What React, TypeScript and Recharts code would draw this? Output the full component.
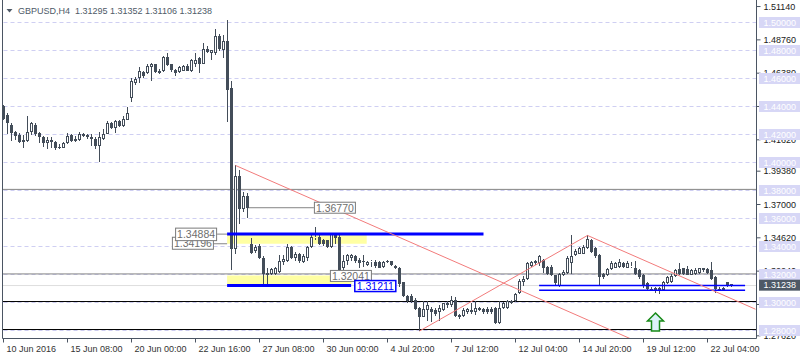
import {
  Bar,
  ComposedChart,
  ReferenceArea,
  ReferenceDot,
  ReferenceLine,
  XAxis,
  YAxis,
} from "recharts";

const FONT = "'Liberation Sans', Arial, sans-serif";
const CANDLE = "#434d59";
const AXIS = "#4b5563";
const TREND = "#f27b7b";

// H4 bars, 10 Jun 2016 16:00 .. 25 Jul 2016 04:00
const opens = [
  1.4407, 1.4336, 1.4271, 1.4221, 1.4193, 1.4143, 1.4157, 1.4221, 1.4271, 1.4214,
  1.4179, 1.4136, 1.4164, 1.4143, 1.4114, 1.4107, 1.4136, 1.4193, 1.4171, 1.4164,
  1.4207, 1.4193, 1.4179, 1.4171, 1.4121, 1.4171, 1.4207, 1.4279, 1.4243, 1.4293,
  1.4264, 1.4307, 1.4464, 1.4571, 1.46, 1.4643, 1.4636, 1.4679, 1.47, 1.4657,
  1.465, 1.475, 1.47, 1.4664, 1.4643, 1.4657, 1.4686, 1.465, 1.4707, 1.4743,
  1.4707, 1.4814, 1.4779, 1.4779, 1.4907, 1.48, 1.4871, 1.4529, 1.3379, 1.3907,
  1.3671, 1.3764, 1.3421, 1.3371, 1.3407, 1.3321, 1.3193, 1.3207, 1.3207, 1.3221,
  1.3286, 1.3293, 1.34, 1.3321, 1.335, 1.3286, 1.3321, 1.3393, 1.3464, 1.3471,
  1.345, 1.3443, 1.3393, 1.3486, 1.3471, 1.3243, 1.33, 1.3321, 1.3329, 1.3307,
  1.33, 1.3271, 1.3286, 1.3286, 1.3286, 1.3257, 1.3293, 1.3293, 1.3264, 1.325,
  1.3143, 1.305, 1.305, 1.3021, 1.2964, 1.29, 1.2943, 1.2957, 1.295, 1.2929,
  1.2943, 1.2979, 1.2979, 1.3021, 1.2914, 1.2907, 1.2929, 1.2929, 1.2929, 1.2943,
  1.2957, 1.2957, 1.2957, 1.2964, 1.2857, 1.2964, 1.2964, 1.2993, 1.3014, 1.3071,
  1.3143, 1.3171, 1.3264, 1.3279, 1.3279, 1.3307, 1.3257, 1.3257, 1.3193, 1.3121,
  1.3193, 1.3214, 1.3279, 1.3336, 1.335, 1.335, 1.3386, 1.3443, 1.3386, 1.3336,
  1.3207, 1.3193, 1.3236, 1.325, 1.3257, 1.3279, 1.325, 1.3257, 1.325, 1.3229,
  1.3193, 1.3136, 1.31, 1.3107, 1.3107, 1.3086, 1.3136, 1.3143, 1.3186, 1.3236,
  1.3243, 1.3236, 1.32, 1.3207, 1.3214, 1.3229, 1.3236, 1.3229, 1.3179, 1.31,
  1.3107, 1.3143, 1.31295,
];
const highs = [
  1.4414, 1.435, 1.4279, 1.4224, 1.4214, 1.4193, 1.4329, 1.4286, 1.4279, 1.4221,
  1.4186, 1.4179, 1.4179, 1.415, 1.4129, 1.4143, 1.4214, 1.4207, 1.4186, 1.4221,
  1.4214, 1.42, 1.4207, 1.4179, 1.4221, 1.4236, 1.4293, 1.4286, 1.43, 1.43,
  1.4329, 1.4393, 1.4607, 1.4614, 1.4679, 1.4657, 1.4707, 1.4714, 1.4707, 1.4671,
  1.4764, 1.4779, 1.4707, 1.4671, 1.4686, 1.4693, 1.4707, 1.4736, 1.4779, 1.475,
  1.485, 1.4829, 1.4807, 1.495, 1.4921, 1.4914, 1.5021, 1.4579, 1.3979, 1.3943,
  1.3786, 1.3779, 1.3464, 1.3414, 1.3421, 1.3329, 1.325, 1.3243, 1.3257, 1.3336,
  1.3336, 1.3421, 1.3407, 1.3364, 1.3357, 1.3343, 1.3407, 1.3479, 1.3536, 1.3479,
  1.3457, 1.345, 1.35, 1.35, 1.3479, 1.3336, 1.335, 1.335, 1.3336, 1.3321,
  1.3336, 1.3293, 1.3307, 1.3307, 1.3293, 1.33, 1.3307, 1.33, 1.3271, 1.3257,
  1.315, 1.3057, 1.3064, 1.3029, 1.2971, 1.3014, 1.3014, 1.2971, 1.2964, 1.2979,
  1.3, 1.3014, 1.3043, 1.3036, 1.2921, 1.2964, 1.2964, 1.2993, 1.3014, 1.2971,
  1.2964, 1.2971, 1.2971, 1.2971, 1.3014, 1.3007, 1.3021, 1.3021, 1.3071, 1.3171,
  1.3186, 1.3286, 1.33, 1.3307, 1.3336, 1.3314, 1.3264, 1.3271, 1.32, 1.3214,
  1.3229, 1.3329, 1.3479, 1.3379, 1.3393, 1.3414, 1.3479, 1.3457, 1.34, 1.3343,
  1.3214, 1.3243, 1.3293, 1.3286, 1.3314, 1.3286, 1.3293, 1.3286, 1.3293, 1.3236,
  1.3207, 1.3143, 1.3114, 1.3114, 1.3114, 1.3157, 1.3186, 1.3207, 1.3236, 1.3279,
  1.325, 1.3264, 1.3236, 1.3243, 1.325, 1.325, 1.3243, 1.3286, 1.3186, 1.3114,
  1.3114, 1.315, 1.31352,
];
const lows = [
  1.43, 1.4207, 1.415, 1.4164, 1.4136, 1.4107, 1.4143, 1.4193, 1.4186, 1.4136,
  1.4114, 1.4093, 1.41, 1.4086, 1.4093, 1.41, 1.4129, 1.4148, 1.4143, 1.4157,
  1.4179, 1.4171, 1.4121, 1.4093, 1.4007, 1.4164, 1.42, 1.4236, 1.4214, 1.4257,
  1.4257, 1.43, 1.4429, 1.455, 1.4571, 1.46, 1.4629, 1.4579, 1.4636, 1.4629,
  1.4643, 1.4686, 1.4643, 1.4621, 1.4636, 1.465, 1.465, 1.4643, 1.4679, 1.4636,
  1.47, 1.4779, 1.4729, 1.4771, 1.4793, 1.4743, 1.4286, 1.3229, 1.335, 1.3564,
  1.3643, 1.3607, 1.335, 1.3357, 1.3314, 1.3129, 1.3129, 1.3193, 1.32, 1.3214,
  1.3271, 1.3286, 1.3314, 1.33, 1.3279, 1.3279, 1.33, 1.3386, 1.3443, 1.3414,
  1.3407, 1.3386, 1.3386, 1.3421, 1.3207, 1.3229, 1.3271, 1.33, 1.3279, 1.325,
  1.3257, 1.3264, 1.3257, 1.325, 1.3243, 1.325, 1.3279, 1.3264, 1.3236, 1.3114,
  1.3036, 1.3, 1.3, 1.295, 1.2796, 1.2893, 1.2871, 1.2864, 1.2907, 1.2871,
  1.2936, 1.2964, 1.2971, 1.2893, 1.2879, 1.29, 1.2921, 1.2921, 1.2914, 1.2936,
  1.2921, 1.2921, 1.2921, 1.285, 1.2843, 1.2957, 1.2957, 1.2986, 1.3007, 1.3064,
  1.3121, 1.3164, 1.3257, 1.3271, 1.3264, 1.3214, 1.32, 1.3186, 1.3121, 1.3114,
  1.3186, 1.3207, 1.3207, 1.3329, 1.3343, 1.3343, 1.3379, 1.3357, 1.3321, 1.3121,
  1.3171, 1.3186, 1.3229, 1.3243, 1.325, 1.325, 1.3243, 1.3243, 1.32, 1.3171,
  1.3107, 1.3079, 1.3086, 1.3071, 1.3064, 1.3079, 1.3129, 1.3136, 1.3179, 1.32,
  1.32, 1.3193, 1.3193, 1.32, 1.3207, 1.3221, 1.3207, 1.3164, 1.3071, 1.3079,
  1.3079, 1.3114, 1.31106,
];
const closes = [
  1.4314, 1.4279, 1.4214, 1.4186, 1.4143, 1.4164, 1.4221, 1.4279, 1.4207, 1.4179,
  1.4136, 1.4164, 1.4143, 1.4107, 1.411, 1.4136, 1.4186, 1.415, 1.4157, 1.4207,
  1.4186, 1.4179, 1.4171, 1.4121, 1.4179, 1.4207, 1.4279, 1.4243, 1.4293, 1.4264,
  1.4314, 1.4357, 1.4579, 1.4593, 1.465, 1.4621, 1.4686, 1.4707, 1.4643, 1.4636,
  1.4757, 1.4693, 1.4664, 1.4636, 1.4679, 1.4686, 1.4657, 1.4729, 1.4729, 1.47,
  1.4814, 1.4786, 1.48, 1.49, 1.4814, 1.4871, 1.4521, 1.3379, 1.3907, 1.3671,
  1.3764, 1.3677, 1.3357, 1.34, 1.3321, 1.3207, 1.3214, 1.3236, 1.3243, 1.3293,
  1.3314, 1.34, 1.3321, 1.335, 1.3293, 1.3329, 1.3393, 1.3471, 1.3471, 1.3421,
  1.3421, 1.3393, 1.3486, 1.3464, 1.3229, 1.33, 1.3336, 1.3336, 1.33, 1.3279,
  1.3286, 1.3286, 1.3293, 1.3264, 1.325, 1.3286, 1.329, 1.3271, 1.3243, 1.3129,
  1.305, 1.3014, 1.3014, 1.2957, 1.2893, 1.2957, 1.2979, 1.2929, 1.2921, 1.2964,
  1.2993, 1.3, 1.3021, 1.2907, 1.2893, 1.2943, 1.2957, 1.295, 1.2964, 1.2964,
  1.2929, 1.2929, 1.2929, 1.2857, 1.2964, 1.3, 1.3014, 1.3014, 1.3064, 1.3157,
  1.3171, 1.3279, 1.3286, 1.33, 1.3329, 1.3243, 1.3207, 1.3193, 1.3136, 1.3207,
  1.3221, 1.3321, 1.3329, 1.3371, 1.3386, 1.34, 1.3457, 1.3364, 1.3329, 1.3179,
  1.3179, 1.3236, 1.3279, 1.3279, 1.3286, 1.3257, 1.3279, 1.326, 1.3207, 1.3179,
  1.3121, 1.31, 1.3097, 1.3086, 1.3086, 1.3143, 1.3179, 1.3186, 1.3229, 1.3207,
  1.3207, 1.32, 1.3229, 1.3229, 1.3243, 1.3243, 1.3214, 1.3171, 1.31, 1.3093,
  1.3086, 1.3121, 1.31238,
];

const dateTicks = [0, 16, 32, 48, 64, 80, 96, 112, 128, 144, 160, 176];
const dateLabels = [
  "10 Jun 2016", "15 Jun 08:00", "20 Jun 00:00", "22 Jun 16:00", "27 Jun 08:00", "30 Jun 00:00",
  "4 Jul 20:00", "7 Jul 12:00", "12 Jul 04:00", "14 Jul 20:00", "19 Jul 12:00", "22 Jul 04:00",
];
const priceTicks = [1.5114, 1.4876, 1.4638, 1.44, 1.4162, 1.3938, 1.37, 1.3462, 1.3224, 1.2986, 1.2762];
const levelLines = [1.5, 1.48, 1.46, 1.44, 1.42, 1.4, 1.38, 1.36, 1.34, 1.32, 1.3, 1.28];
const lastPrice = 1.31238;
const title = "GBPUSD,H4  1.31295 1.31352 1.31106 1.31238";

// drawn objects, in (bar index, price)
const greyLevels = [1.3808, 1.32041];
const blackLevels = [1.3007, 1.2807];
const faintLevel = 1.31211;
const trendLines = [
  [{ x: 58, y: 1.3979 }, { x: 157, y: 1.2738 }],
  [{ x: 104, y: 1.2796 }, { x: 146, y: 1.3479 }],
  [{ x: 146, y: 1.3479 }, { x: 188, y: 1.2952 }],
];
const zones = [
  { x1: 55.9, x2: 90.8, y1: 1.34196, y2: 1.34884 },
  { x1: 55.9, x2: 87, y1: 1.3128, y2: 1.3193 },
];
const boldBlue = [
  { x1: 55.9, x2: 120, y: 1.34884 },
  { x1: 55.9, x2: 86.9, y: 1.31211 },
];
const thinBlue = [
  { x1: 133.9, x2: 185.4, y: 1.31211 },
  { x1: 133.9, x2: 185.4, y: 1.3087 },
];
const connectors = [
  { x1: 61, x2: 77.6, y: 1.3677 },
  { x1: 53.4, x2: 55.9, y: 1.34884 },
  { x1: 52.4, x2: 55.9, y: 1.34196 },
];
const priceLabels = [
  { x: 77.6, y: 1.3677, text: "1.36770", dy: -5.5, h: 11, blue: false },
  { x: 42.1, y: 1.34196, text: "1.34196", dy: -6.5, h: 12, blue: false },
  { x: 42.9, y: 1.34884, text: "1.34884", dy: -6, h: 12.5, blue: false },
  { x: 81.6, y: 1.32041, text: "1.32041", dy: -3.5, h: 11, blue: false },
  { x: 87.7, y: 1.31211, text: "1.31211", dy: -5, h: 11, blue: true },
];
const arrowAt = { x: 163, y: 1.2925 };

const data = opens.map((open, i) => ({
  i,
  open,
  high: highs[i],
  low: lows[i],
  close: closes[i],
  range: [lows[i], highs[i]],
}));

const Candle = (props: any) => {
  const { x, y, width, height, payload } = props;
  if (x == null || !payload) return null;
  const cx = Math.round(x + width / 2 - 0.5) + 0.5;
  const top = Math.min(y, y + height);
  const h = Math.abs(height);
  const { open, high, low, close } = payload;
  const span = high - low || 1e-9;
  const py = (v: number) => top + ((high - v) / span) * h;
  const yo = py(open);
  const yc = py(close);
  const bTop = Math.round(Math.min(yo, yc));
  const bBot = Math.max(Math.round(Math.max(yo, yc)), bTop + 1);
  const yHi = Math.round(top);
  const yLo = Math.round(top + h);
  if (close > open) {
    return (
      <g>
        <line x1={cx} x2={cx} y1={yHi} y2={bTop} stroke={CANDLE} />
        <line x1={cx} x2={cx} y1={bBot} y2={yLo} stroke={CANDLE} />
        <rect x={cx - 1} y={bTop + 0.5} width={2} height={Math.max(bBot - bTop - 1, 0)} fill="#fff" stroke={CANDLE} />
      </g>
    );
  }
  return (
    <g>
      <line x1={cx} x2={cx} y1={yHi} y2={yLo} stroke={CANDLE} />
      <rect x={cx - 1.5} y={bTop} width={3} height={bBot - bTop} fill={CANDLE} />
    </g>
  );
};

const DateTick = ({ x, y, payload }: any) => {
  const k = dateTicks.indexOf(payload.value);
  return (
    <text x={x + 3} y={y + 7} fontSize={9} fontFamily={FONT} fill="#333" textAnchor="start">
      {dateLabels[k]}
    </text>
  );
};

const PriceTick = ({ x, y, payload }: any) => (
  <text x={x} y={y + 3.2} fontSize={9} fontFamily={FONT} fill="#1b1b1b" textAnchor="start">
    {Number(payload.value).toFixed(5)}
  </text>
);

const axisBox = (text: string, fill: string) => (props: any) => {
  const { cx, cy } = props;
  return (
    <g>
      <rect x={cx + 2.5} y={cy - 5.5} width={41} height={11} fill={fill} />
      <text x={cx + 7} y={cy + 3.3} fontSize={9} fontFamily={FONT} fill="#fff">
        {text}
      </text>
    </g>
  );
};

const labelBox = (text: string, dy: number, h: number, blue: boolean) => (props: any) => {
  const { cx, cy } = props;
  const color = blue ? "#0000ff" : "#7a7a7a";
  return (
    <g>
      <rect
        x={cx + 0.5}
        y={cy + dy}
        width={41}
        height={h}
        fill="#fff"
        stroke={color}
        strokeWidth={blue ? 1.5 : 1}
      />
      <text
        x={cx + 21}
        y={cy + dy + h / 2 + 3.8}
        fontSize={10.5}
        fontFamily={FONT}
        fill={blue ? "#0000ff" : "#6e6e6e"}
        textAnchor="middle"
      >
        {text}
      </text>
    </g>
  );
};

const UpArrow = (props: any) => {
  const { cx, cy } = props;
  const d = `M${cx},${cy} L${cx + 8},${cy + 8} L${cx + 4},${cy + 8} L${cx + 4},${cy + 18} L${cx - 4},${cy + 18} L${cx - 4},${cy + 8} L${cx - 8},${cy + 8} Z`;
  return <path d={d} fill="#dcf2f8" stroke="#178a17" strokeWidth={1.5} strokeLinejoin="miter" />;
};

export default function App() {
  return (
    <div style={{ position: "absolute", left: 0, top: 0, width: 800, height: 360, background: "#fff" }}>
      <ComposedChart
        width={800}
        height={360}
        data={data}
        margin={{ top: 0, right: 0, bottom: 0, left: 2.5 }}
      >
        {zones.map((z, k) => (
          <ReferenceArea
            key={`z${k}`}
            x1={z.x1}
            x2={z.x2}
            y1={z.y1}
            y2={z.y2}
            fill="#ffffa3"
            fillOpacity={1}
            stroke="none"
            ifOverflow="hidden"
            zIndex={-90}
          />
        ))}
        {levelLines.map((v) => (
          <ReferenceLine key={`g${v}`} y={v} stroke="#cfcff2" strokeDasharray="4 3" zIndex={-80} />
        ))}
        <ReferenceLine y={faintLevel} stroke="#dedede" zIndex={-70} />
        {greyLevels.map((v) => (
          <ReferenceLine key={`gr${v}`} y={v} stroke="#858585" zIndex={-70} />
        ))}
        {blackLevels.map((v) => (
          <ReferenceLine key={`bk${v}`} y={v} stroke="#000" zIndex={-70} />
        ))}
        {connectors.map((c, k) => (
          <ReferenceLine
            key={`c${k}`}
            segment={[{ x: c.x1, y: c.y }, { x: c.x2, y: c.y }]}
            stroke="#858585"
            ifOverflow="visible"
            zIndex={-70}
          />
        ))}
        <ReferenceLine x={-0.25} stroke={AXIS} ifOverflow="visible" zIndex={-60} />
        <XAxis
          dataKey="i"
          type="number"
          domain={[-0.25, 188.25]}
          allowDataOverflow
          ticks={dateTicks}
          interval={0}
          height={21.5}
          axisLine={{ stroke: AXIS }}
          tickLine={{ stroke: AXIS }}
          tickSize={4}
          tickMargin={2}
          tick={<DateTick />}
        />
        <YAxis
          orientation="right"
          type="number"
          domain={[1.274286, 1.516071]}
          allowDataOverflow
          ticks={priceTicks}
          interval={0}
          width={43.5}
          axisLine={{ stroke: AXIS }}
          tickLine={{ stroke: AXIS }}
          tickSize={4}
          tickMargin={3}
          tick={<PriceTick />}
        />
        <Bar
          dataKey="range"
          barSize={3}
          isAnimationActive={false}
          shape={(p: any) => <Candle {...p} />}
          zIndex={300}
        />
        {boldBlue.map((b, k) => (
          <ReferenceLine
            key={`bb${k}`}
            segment={[{ x: b.x1, y: b.y }, { x: b.x2, y: b.y }]}
            stroke="#0000ff"
            strokeWidth={3}
            ifOverflow="visible"
            zIndex={400}
          />
        ))}
        {thinBlue.map((b, k) => (
          <ReferenceLine
            key={`tb${k}`}
            segment={[{ x: b.x1, y: b.y }, { x: b.x2, y: b.y }]}
            stroke="#0000ff"
            strokeWidth={1.6}
            ifOverflow="visible"
            zIndex={400}
          />
        ))}
        {trendLines.map((seg, k) => (
          <ReferenceLine key={`t${k}`} segment={seg} stroke={TREND} ifOverflow="hidden" zIndex={410} />
        ))}
        <ReferenceDot
          x={arrowAt.x}
          y={arrowAt.y}
          r={1}
          ifOverflow="visible"
          shape={UpArrow}
          zIndex={2400}
        />
        {priceLabels.map((l) => (
          <ReferenceDot
            key={l.text}
            x={l.x}
            y={l.y}
            r={1}
            ifOverflow="visible"
            shape={labelBox(l.text, l.dy, l.h, l.blue)}
            zIndex={2500}
          />
        ))}
        {levelLines.map((v) => (
          <ReferenceDot
            key={`ab${v}`}
            x={188.25}
            y={v}
            r={1}
            ifOverflow="visible"
            shape={axisBox(v.toFixed(5), "#d7d7f6")}
            zIndex={2600}
          />
        ))}
        <ReferenceDot
          x={188.25}
          y={lastPrice}
          r={1}
          ifOverflow="visible"
          shape={axisBox(lastPrice.toFixed(5), "#4e5966")}
          zIndex={2700}
        />
      </ComposedChart>
      <svg width={240} height={20} style={{ position: "absolute", left: 0, top: 0 }}>
        <polygon points="6.5,9 12.5,9 9.5,12.5" fill="#4e5966" />
        <text x={18} y={13.5} fontSize={9} fontFamily={FONT} fill="#4e5a68" style={{ whiteSpace: "pre" }}>
          {title}
        </text>
      </svg>
    </div>
  );
}
